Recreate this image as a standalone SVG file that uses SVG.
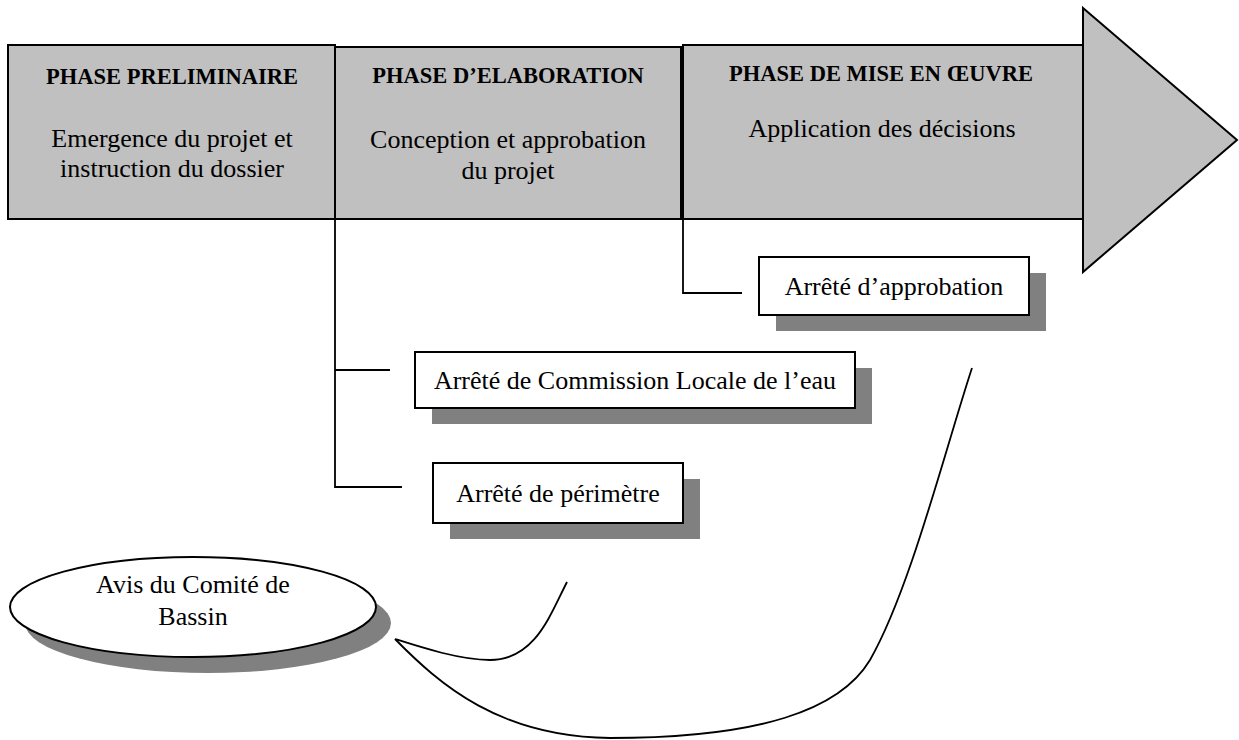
<svg xmlns="http://www.w3.org/2000/svg" width="1239" height="740" viewBox="0 0 1239 740">
<style>
.phase{fill:#c0c0c0;stroke:#000;stroke-width:2}
.box{fill:#fff;stroke:#000;stroke-width:2}
.shadow{fill:#808080;stroke:none}
.t{font-family:"Liberation Serif","Times New Roman",serif;font-size:26px;fill:#000;text-anchor:middle}
.b{font-family:"Liberation Serif","Times New Roman",serif;font-size:22.5px;font-weight:bold;fill:#000;text-anchor:middle}
.ln{fill:none;stroke:#000;stroke-width:1.8}
</style>
<rect width="1239" height="740" fill="#fff"/>
<g id="phase-preliminaire">
<rect class="phase" x="8" y="45" width="327" height="174"/>
<text class="b" x="172" y="84">PHASE PRELIMINAIRE</text>
<text class="t" x="172" y="147">Emergence du projet et</text>
<text class="t" x="172" y="177">instruction du dossier</text>
</g>
<g id="phase-elaboration">
<rect class="phase" x="335" y="47" width="346" height="172"/>
<text class="b" x="508" y="83">PHASE D’ELABORATION</text>
<text class="t" x="508" y="148">Conception et approbation</text>
<text class="t" x="508" y="179">du projet</text>
</g>
<g id="phase-mise-en-oeuvre">
<polygon class="phase" points="1083,8 1237,140 1083,272"/>
<rect class="phase" x="683" y="45" width="400" height="174"/>
<text class="b" x="881" y="81">PHASE DE MISE EN ŒUVRE</text>
<text class="t" x="882" y="137">Application des décisions</text>
</g>
<g id="connectors">
<path class="ln" d="M335,219 V487 H402"/>
<path class="ln" d="M335,370 H390"/>
<path class="ln" d="M683,219 V293 H742"/>
<path class="ln" d="M567,582 C550,615 535,660 490,660 C460,660 420,647 395,639 C440,685 500,737 610,738 C760,738 840,710 870,660 C910,590 945,450 972,368"/>
</g>
<g id="arrete-approbation">
<rect class="shadow" x="776" y="273" width="270" height="58"/>
<rect class="box" x="759" y="257" width="270" height="58"/>
<text class="t" x="894" y="295">Arrêté d’approbation</text>
</g>
<g id="arrete-commission">
<rect class="shadow" x="432" y="368" width="440" height="56"/>
<rect class="box" x="415" y="352" width="440" height="56"/>
<text class="t" x="635" y="389">Arrêté de Commission Locale de l’eau</text>
</g>
<g id="arrete-perimetre">
<rect class="shadow" x="450" y="479" width="250" height="60"/>
<rect class="box" x="433" y="463" width="250" height="60"/>
<text class="t" x="558" y="502">Arrêté de périmètre</text>
</g>
<g id="avis-comite">
<ellipse class="shadow" cx="208" cy="623" rx="183" ry="50"/>
<ellipse class="box" cx="193" cy="607" rx="183" ry="50"/>
<text class="t" x="193" y="593">Avis du Comité de</text>
<text class="t" x="193" y="625">Bassin</text>
</g>
</svg>
